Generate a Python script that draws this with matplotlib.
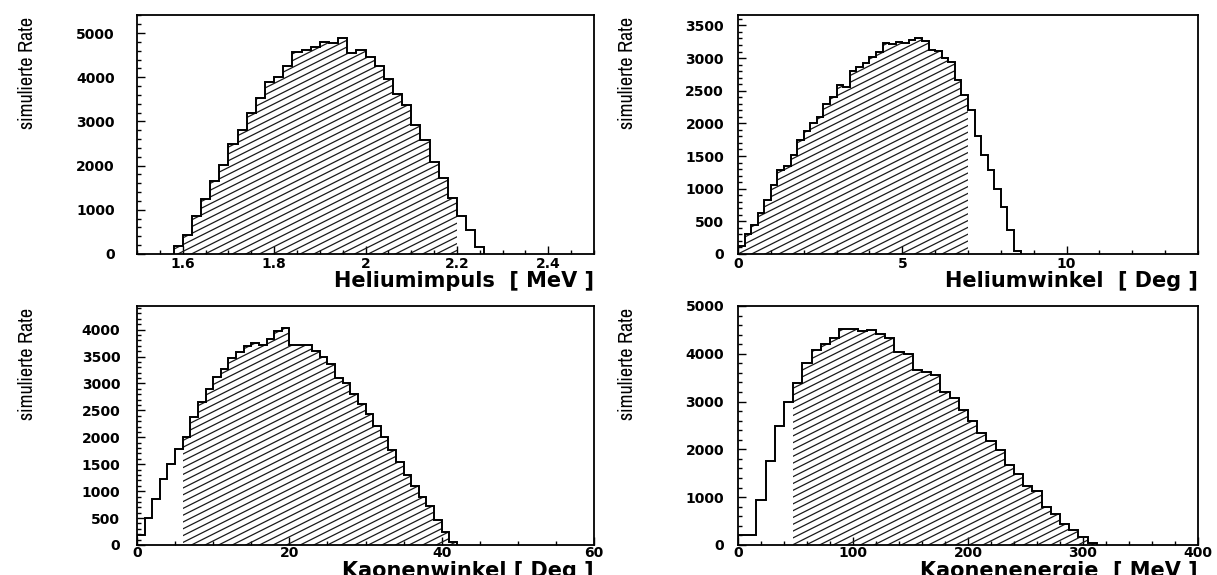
import matplotlib.pyplot as plt
import numpy as np
from matplotlib import font_manager
from matplotlib.collections import LineCollection
from matplotlib.ticker import MultipleLocator, FuncFormatter

# Heliumimpuls, 0.02 MeV bins from 1.58
he_p_start = 1.58
he_p_width = 0.02
he_p_counts = [170, 420, 865, 1255, 1650, 2010, 2500, 2800, 3200, 3520, 3890,
               4010, 4260, 4580, 4620, 4680, 4800, 4770, 4880, 4540, 4620, 4460,
               4260, 3960, 3630, 3370, 2910, 2580, 2090, 1720, 1270, 860, 540, 150]
he_p_hatch = (1.58, 2.20)

# Heliumwinkel, 0.2 deg bins from 0
he_w_start = 0.0
he_w_width = 0.2
he_w_counts = [120, 300, 450, 630, 830, 1050, 1280, 1340, 1510, 1740, 1880, 2000,
               2100, 2300, 2400, 2580, 2550, 2800, 2860, 2930, 3010, 3100, 3230,
               3220, 3240, 3230, 3280, 3300, 3260, 3130, 3110, 3000, 2940, 2660,
               2430, 2210, 1800, 1520, 1280, 1000, 720, 360, 40]
he_w_hatch = (0.0, 7.0)

# Kaonenwinkel, 1 deg bins from 0
k_w_start = 0
k_w_width = 1
k_w_counts = [190, 500, 850, 1220, 1500, 1780, 2000, 2380, 2660, 2900, 3120, 3270,
              3470, 3580, 3700, 3745, 3715, 3830, 3980, 4025, 3720, 3720, 3710,
              3600, 3500, 3370, 3110, 3000, 2800, 2625, 2430, 2210, 2000, 1760,
              1540, 1305, 1090, 900, 715, 470, 250, 60]
k_w_hatch = (6, 42)

# Kaonenenergie, 8 MeV bins from 0
k_e_start = 0
k_e_width = 8
k_e_counts = [200, 200, 945, 1750, 2480, 2985, 3380, 3810, 4070, 4200, 4320, 4510,
              4525, 4475, 4500, 4405, 4335, 4035, 3985, 3650, 3620, 3565, 3195,
              3075, 2830, 2590, 2345, 2180, 1980, 1680, 1490, 1225, 1120, 785, 645,
              435, 315, 175, 50]
k_e_hatch = (48, 312)

ylabel = 'simulierte Rate'

# narrow font for the y labels if one is around
fonts = font_manager.fontManager.ttflist
narrow = [f.name for f in fonts if 'Narrow' in f.name or 'Condensed' in f.name]
cond = [f for f in fonts if f.name == 'DejaVu Sans' and str(f.stretch) in ('condensed', 'semi-condensed')]
if narrow:
    ylab_font = dict(family=[narrow[0], 'DejaVu Sans'], fontsize=14.5)
elif cond:
    ylab_font = dict(family='DejaVu Sans', fontstretch='condensed', fontsize=13)
else:
    ylab_font = dict(family='DejaVu Sans', fontsize=11.5)


def draw_hist(fig, ax, start, width, counts, hatch):
    counts = np.array(counts, dtype=float)
    edges = start + width * np.arange(len(counts) + 1)
    ax.stairs(counts, edges, color='black', lw=1.4, baseline=0, zorder=3)

    eps = width * 1e-3
    idx = np.where((edges[:-1] >= hatch[0] - eps) & (edges[1:] <= hatch[1] + eps))[0]
    clip = ax.stairs(counts[idx[0]:idx[-1] + 1], edges[idx[0]:idx[-1] + 2],
                     fill=True, facecolor='none', edgecolor='none')

    # shallow diagonal hatching, spacing in pixels
    pos = ax.get_position()
    W = pos.width * fig.get_figwidth() * fig.dpi
    H = pos.height * fig.get_figheight() * fig.dpi
    slope, d = 0.5, 6.8
    kmin = int(-slope * W / d) - 2
    kmax = int(H / d) + 2
    segs = [[(0, k * d / H), (1, (k * d + slope * W) / H)] for k in range(kmin, kmax)]
    lc = LineCollection(segs, transform=ax.transAxes, colors='#1a1a1a', linewidths=0.9)
    ax.add_collection(lc, autolim=False)
    lc.set_clip_path(clip)


def style(ax, xlim, ylim, xmaj, xmin, ymaj, ymin, xlabel, ypad, xpad, xlab_y):
    ax.set_xlim(*xlim)
    ax.set_ylim(*ylim)
    ax.xaxis.set_major_locator(MultipleLocator(xmaj))
    ax.xaxis.set_minor_locator(MultipleLocator(xmin))
    ax.yaxis.set_major_locator(MultipleLocator(ymaj))
    ax.yaxis.set_minor_locator(MultipleLocator(ymin))
    ax.xaxis.set_major_formatter(FuncFormatter(lambda v, p: f'{v:g}'))
    ax.yaxis.set_major_formatter(FuncFormatter(lambda v, p: f'{v:g}'))
    ax.tick_params(which='both', direction='in', top=False, right=False, width=1)
    ax.tick_params(which='major', length=6)
    ax.tick_params(which='minor', length=3)
    ax.tick_params(axis='x', which='major', pad=xpad)
    ax.tick_params(axis='y', which='major', pad=ypad)
    for lab in ax.get_xticklabels() + ax.get_yticklabels():
        lab.set_fontweight('bold')
        lab.set_fontsize(10)
    for sp in ax.spines.values():
        sp.set_linewidth(1.3)
    ax.set_xlabel(xlabel, fontsize=15, fontweight='bold', ha='right', va='top')
    ax.xaxis.set_label_coords(1.0, xlab_y)
    ax.set_ylabel(ylabel, ha='right', va='center', **ylab_font)
    ax.yaxis.set_label_coords(-0.24, 0.99)


fig = plt.figure(figsize=(12.17, 5.75), dpi=100)
ax1 = fig.add_axes([0.1126, 0.5583, 0.3755, 0.4157])
ax2 = fig.add_axes([0.6064, 0.5583, 0.3780, 0.4157])
ax3 = fig.add_axes([0.1126, 0.0522, 0.3755, 0.4157])
ax4 = fig.add_axes([0.6064, 0.0522, 0.3780, 0.4157])

style(ax1, (1.5, 2.5), (0, 5410), 0.2, 0.05, 1000, 200, 'Heliumimpuls  [ MeV ]', 16, 2.5, -0.07)
style(ax2, (0, 14), (0, 3660), 5, 1, 500, 100, 'Heliumwinkel  [ Deg ]', 10, 2.5, -0.07)
style(ax3, (0, 60), (0, 4440), 20, 5, 500, 100, 'Kaonenwinkel [ Deg ]', 12, 0.5, -0.066)
style(ax4, (0, 400), (0, 5000), 100, 20, 1000, 200, 'Kaonenenergie  [ MeV ]', 10, 0.5, -0.066)

draw_hist(fig, ax1, he_p_start, he_p_width, he_p_counts, he_p_hatch)
draw_hist(fig, ax2, he_w_start, he_w_width, he_w_counts, he_w_hatch)
draw_hist(fig, ax3, k_w_start, k_w_width, k_w_counts, k_w_hatch)
draw_hist(fig, ax4, k_e_start, k_e_width, k_e_counts, k_e_hatch)

for ax, lim in [(ax1, (1.5, 2.5, 0, 5410)), (ax2, (0, 14, 0, 3660)),
                (ax3, (0, 60, 0, 4440)), (ax4, (0, 400, 0, 5000))]:
    ax.set_xlim(lim[0], lim[1])
    ax.set_ylim(lim[2], lim[3])

plt.savefig('out.png', dpi=100)
